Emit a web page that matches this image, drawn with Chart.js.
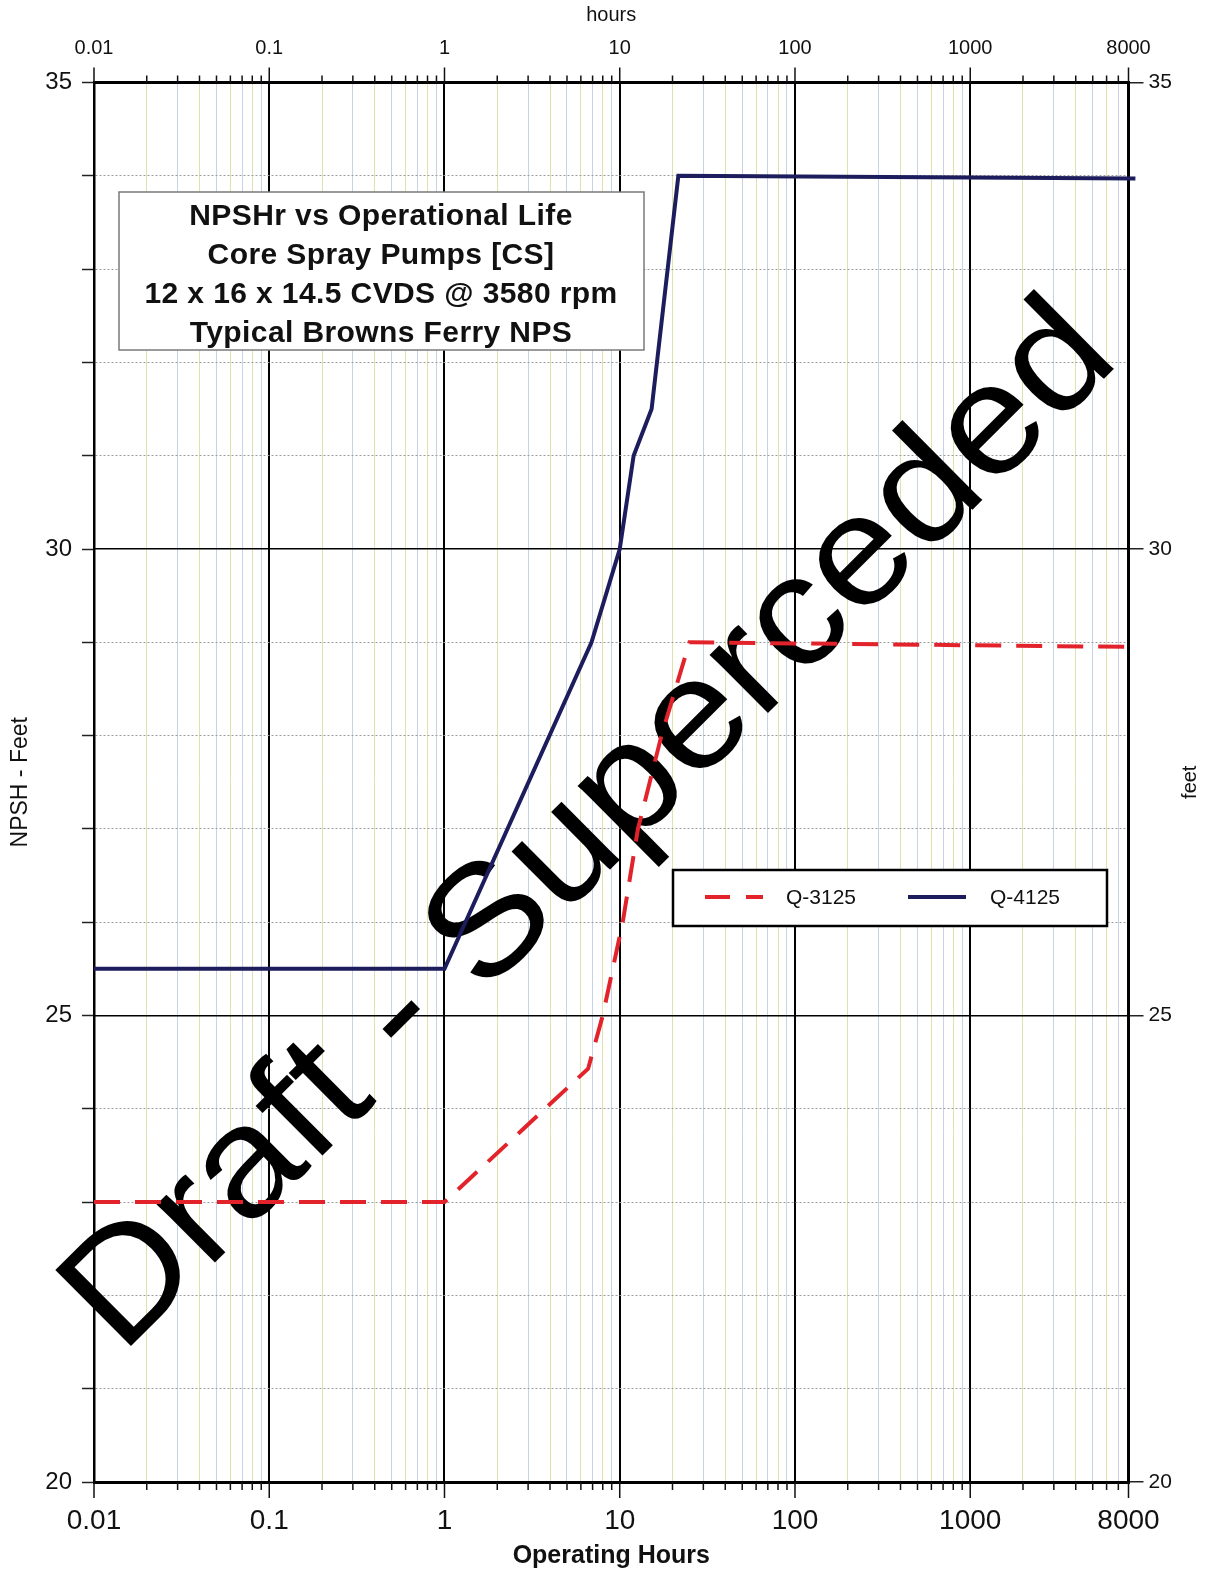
<!DOCTYPE html>
<html>
<head>
<meta charset="utf-8">
<script src="https://cdn.jsdelivr.net/npm/chart.js@4/dist/chart.umd.min.js"></script>
<style>
  html, body { margin: 0; padding: 0; background: #fff; overflow: hidden; }
  canvas { display: block; }
</style>
</head>
<body>
<canvas id="npshChart" width="1211" height="1577"></canvas>
<script>
// values (hours, feet)
const hoursQ3125 = [0.01, 1, 6.6, 8, 10.4, 12.7, 17.3, 25, 8760];
const npshQ3125 = [23.0, 23.0, 24.43, 25.0, 26.0, 27.0, 28.0, 29.0, 28.95];
const hoursQ4125 = [0.01, 1, 6.9, 10, 12, 15.2, 21.6, 8760];
const npshQ4125 = [25.5, 25.5, 29.0, 30.0, 31.0, 31.5, 34.0, 33.97];

const xTickValues = [0.01, 0.1, 1, 10, 100, 1000, 8000];
const xTickLabels = ['0.01', '0.1', '1', '10', '100', '1000', '8000'];
const yMajorTicks = [20, 25, 30, 35];

const titleLines = [
    'NPSHr vs Operational Life',
    'Core Spray Pumps [CS]',
    '12 x 16 x 14.5 CVDS @ 3580 rpm',
    'Typical Browns Ferry NPS'
];

const FONT = '"Liberation Sans", Arial, Helvetica, sans-serif';
const RED = '#e3232b';
const NAVY = '#1d1d5e';

// every 1..9 multiple of each decade, up to the 8000 end
const xGridValues = [];
for (let d = -2; d <= 3; d++) {
    for (let m = 1; m <= 9; m++) {
        const v = m * Math.pow(10, d);
        if (v <= 8000 + 1e-6) xGridValues.push(v);
    }
}

function multiplier(v) {
    const p = Math.pow(10, Math.floor(Math.log10(v) + 1e-9));
    return Math.round(v / p);
}
function isMajorX(v) {
    return multiplier(v) === 1 || Math.abs(v - 8000) < 1e-6;
}
function xLabel(v) {
    const i = xTickValues.findIndex(t => Math.abs(t - v) / t < 1e-6);
    return i >= 0 ? xTickLabels[i] : '';
}
function minorColor(v) {
    return multiplier(v) % 2 === 0 ? '#dfe2ad' : '#c6d3e6';
}

const xyQ3125 = hoursQ3125.map((h, i) => ({ x: h, y: npshQ3125[i] }));
const xyQ4125 = hoursQ4125.map((h, i) => ({ x: h, y: npshQ4125[i] }));

const decorPlugin = {
    id: 'decor',
    beforeDraw(chart) {
        const ctx = chart.ctx;
        ctx.save();
        ctx.fillStyle = '#fff';
        ctx.fillRect(0, 0, chart.width, chart.height);
        ctx.restore();
    },
    beforeDatasetsDraw(chart) {
        // watermark
        const ctx = chart.ctx;
        const x0 = 130, y0 = 1347, x1 = 1113, y1 = 370;
        const len = Math.hypot(x1 - x0, y1 - y0);
        const ang = Math.atan2(y1 - y0, x1 - x0);
        const size = 156;
        ctx.save();
        ctx.font = size + 'px ' + FONT;
        const text = 'Draft - Superceded';
        const w = ctx.measureText(text).width;
        const sx = len / (w - 0.147 * size);
        ctx.translate((x0 + x1) / 2, (y0 + y1) / 2);
        ctx.rotate(ang);
        ctx.scale(sx, 1);
        ctx.fillStyle = '#000';
        ctx.textAlign = 'center';
        ctx.textBaseline = 'alphabetic';
        ctx.fillText(text, 0, 0);
        ctx.restore();
    },
    afterDatasetsDraw(chart) {
        const ctx = chart.ctx;
        ctx.save();

        // title box
        ctx.fillStyle = '#fff';
        ctx.fillRect(119, 192, 525, 158);
        ctx.strokeStyle = '#7a7a7a';
        ctx.lineWidth = 1.5;
        ctx.strokeRect(119, 192, 525, 158);
        ctx.fillStyle = '#111';
        ctx.font = 'bold 30px ' + FONT;
        ctx.letterSpacing = '0.4px';
        ctx.textAlign = 'center';
        ctx.textBaseline = 'alphabetic';
        const baselines = [225, 264, 303, 342];
        titleLines.forEach((t, i) => ctx.fillText(t, 381, baselines[i]));
        ctx.letterSpacing = '0px';

        // legend box
        ctx.fillStyle = '#fff';
        ctx.fillRect(673, 870, 434, 56);
        ctx.strokeStyle = '#000';
        ctx.lineWidth = 2.5;
        ctx.strokeRect(673, 870, 434, 56);
        const items = [
            { ds: chart.data.datasets[0], x: 705, tx: 786 },
            { ds: chart.data.datasets[1], x: 908, tx: 990 }
        ];
        items.forEach(it => {
            ctx.beginPath();
            ctx.strokeStyle = it.ds.borderColor;
            ctx.lineWidth = 4;
            ctx.setLineDash(it.ds.borderDash ? [25, 16] : []);
            ctx.moveTo(it.x, 897);
            ctx.lineTo(it.x + 58, 897);
            ctx.stroke();
            ctx.setLineDash([]);
            ctx.fillStyle = '#111';
            ctx.font = '21px ' + FONT;
            ctx.textAlign = 'left';
            ctx.textBaseline = 'middle';
            ctx.fillText(it.ds.label, it.tx, 898);
        });
        ctx.restore();
    },
    afterDraw(chart) {
        const ctx = chart.ctx;
        const area = chart.chartArea;
        const xs = chart.scales.x;
        ctx.save();
        ctx.strokeStyle = '#111';
        ctx.lineWidth = 1.5;
        xGridValues.forEach(v => {
            const px = xs.getPixelForValue(v);
            const major = isMajorX(v);
            ctx.beginPath();
            ctx.moveTo(px, area.bottom);
            ctx.lineTo(px, area.bottom + (major ? 16 : 8));
            ctx.moveTo(px, area.top);
            ctx.lineTo(px, area.top - (major ? 15 : 7));
            ctx.stroke();
        });

        // right axis title
        ctx.fillStyle = '#111';
        ctx.font = '20px ' + FONT;
        ctx.textAlign = 'center';
        ctx.textBaseline = 'middle';
        ctx.translate(1190, (area.top + area.bottom) / 2);
        ctx.rotate(-Math.PI / 2);
        ctx.fillText('feet', 0, 0);
        ctx.restore();
    }
};

function xAxis(position, fontSize, height) {
    return {
        type: 'logarithmic',
        position: position,
        min: 0.01,
        max: 8000,
        afterBuildTicks: scale => { scale.ticks = xGridValues.map(v => ({ value: v })); },
        afterFit: scale => { scale.height = height; },
        grid: {
            display: position === 'bottom',
            drawTicks: false,
            color: c => isMajorX(c.tick.value) ? '#000' : minorColor(c.tick.value),
            lineWidth: c => isMajorX(c.tick.value) ? 2 : 1
        },
        border: { color: '#000', width: 3 },
        ticks: {
            autoSkip: false,
            maxRotation: 0,
            padding: 22,
            color: '#111',
            font: { family: FONT, size: fontSize },
            callback: v => xLabel(v)
        }
    };
}

function initNpshChart() {
    const ctx = document.getElementById('npshChart').getContext('2d');

    const xBottom = xAxis('bottom', 28, 95);
    xBottom.title = {
        display: true,
        text: 'Operating Hours',
        color: '#111',
        font: { family: FONT, size: 25, weight: 'bold' },
        padding: { top: 0, bottom: 6 }
    };
    const xTop = xAxis('top', 20, 82.5);
    xTop.title = {
        display: true,
        text: 'hours',
        color: '#111',
        font: { family: FONT, size: 20 },
        padding: { top: 3, bottom: 0 }
    };

    new Chart(ctx, {
        type: 'line',
        data: {
            datasets: [
                {
                    label: 'Q-3125',
                    data: xyQ3125,
                    borderColor: RED,
                    borderWidth: 4,
                    borderDash: [26, 15],
                    pointRadius: 0,
                    tension: 0,
                    fill: false,
                    clip: false
                },
                {
                    label: 'Q-4125',
                    data: xyQ4125,
                    borderColor: NAVY,
                    borderWidth: 4,
                    pointRadius: 0,
                    tension: 0,
                    fill: false,
                    clip: false
                }
            ]
        },
        options: {
            responsive: false,
            animation: false,
            devicePixelRatio: 1,
            layout: { padding: 0 },
            plugins: { legend: { display: false }, tooltip: { enabled: false } },
            scales: {
                x: xBottom,
                x2: xTop,
                y: {
                    position: 'left',
                    min: 20,
                    max: 35,
                    afterFit: scale => { scale.width = 94; },
                    grid: {
                        color: c => c.tick.value % 5 === 0 ? 'rgba(0,0,0,0)' : '#9c9c9c',
                        lineWidth: 1,
                        tickLength: 12,
                        tickColor: '#222',
                        tickWidth: 1.5
                    },
                    border: { color: '#000', width: 2.5, dash: [2, 2] },
                    ticks: {
                        stepSize: 1,
                        padding: 10,
                        color: '#111',
                        font: { family: FONT, size: 24 },
                        callback: v => yMajorTicks.includes(v) ? String(v) : ''
                    },
                    title: {
                        display: true,
                        text: 'NPSH - Feet',
                        color: '#111',
                        font: { family: FONT, size: 23 },
                        padding: { top: 7, bottom: 0 }
                    }
                },
                yR: {
                    position: 'right',
                    min: 20,
                    max: 35,
                    afterFit: scale => { scale.width = 82.5; },
                    afterBuildTicks: scale => { scale.ticks = yMajorTicks.map(v => ({ value: v })); },
                    grid: {
                        color: '#000',
                        lineWidth: 1.5,
                        tickLength: 15,
                        tickColor: '#222',
                        tickWidth: 1.5
                    },
                    border: { color: '#000', width: 2.5 },
                    ticks: {
                        padding: 5,
                        color: '#111',
                        font: { family: FONT, size: 21 }
                    }
                }
            }
        },
        plugins: [decorPlugin]
    });
}

initNpshChart();
</script>
</body>
</html>
